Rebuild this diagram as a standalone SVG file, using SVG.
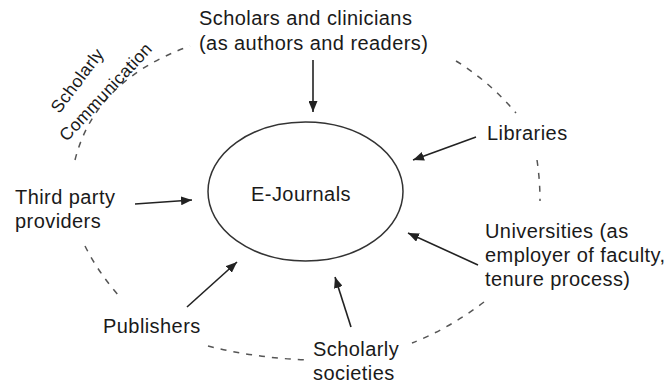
<svg xmlns="http://www.w3.org/2000/svg" width="666" height="385" viewBox="0 0 666 385">
<style>
text{font-family:"Liberation Sans",Arial,Helvetica,sans-serif;font-size:20px;fill:#1a1a1a;letter-spacing:0.43px}
.rot{font-size:17.5px;letter-spacing:0.4px}
.arr{stroke:#222;stroke-width:1.6;fill:none;marker-end:url(#ah)}
.dash{stroke:#555;stroke-width:1.5;fill:none;stroke-dasharray:6 7}
</style>
<defs>
<marker id="ah" markerUnits="userSpaceOnUse" markerWidth="12" markerHeight="9" refX="11" refY="4.5" orient="auto">
<path d="M0,0 L11,4.5 L0,9 z" fill="#222"/>
</marker>
</defs>
<rect width="666" height="385" fill="#fff"/>
<g id="boundary">
<path class="dash" d="M75,160 Q95,80 190,46"/>
<path class="dash" d="M456,61 Q490,82 516,113"/>
<path class="dash" d="M537,160 Q540,180 540,201"/>
<path class="dash" d="M484,302 Q450,328 412,343"/>
<path class="dash" d="M208,346 Q255,358 308,360"/>
<path class="dash" d="M85,246 Q98,272 119,296"/>
<text class="rot" transform="translate(82,84) rotate(-53)" text-anchor="middle">Scholarly</text>
<text class="rot" transform="translate(110,96) rotate(-47)" text-anchor="middle">Communication</text>
</g>
<g id="ejournals">
<ellipse cx="305.5" cy="191.5" rx="97.5" ry="69.5" fill="none" stroke="#333" stroke-width="1.5"/>
<text x="301" y="201" text-anchor="middle">E-Journals</text>
</g>
<g id="scholars">
<text x="199" y="25">Scholars and clinicians</text>
<text x="199" y="50">(as authors and readers)</text>
</g>
<g id="libraries">
<text x="487" y="140">Libraries</text>
</g>
<g id="thirdparty">
<text x="15" y="204">Third party</text>
<text x="15" y="228">providers</text>
</g>
<g id="universities">
<text x="485" y="238">Universities (as</text>
<text x="485" y="262">employer of faculty,</text>
<text x="485" y="286">tenure process)</text>
</g>
<g id="publishers">
<text x="103" y="333">Publishers</text>
</g>
<g id="societies">
<text x="313" y="356">Scholarly</text>
<text x="313" y="380">societies</text>
</g>
<g id="connectors">
<path class="arr" d="M313,60 L313,112"/>
<path class="arr" d="M476,137 L413,160"/>
<path class="arr" d="M135,204 L192,200"/>
<path class="arr" d="M187,307 L237,262"/>
<path class="arr" d="M351,327 L335,277"/>
<path class="arr" d="M478,265 L408,233"/>
</g>
</svg>
